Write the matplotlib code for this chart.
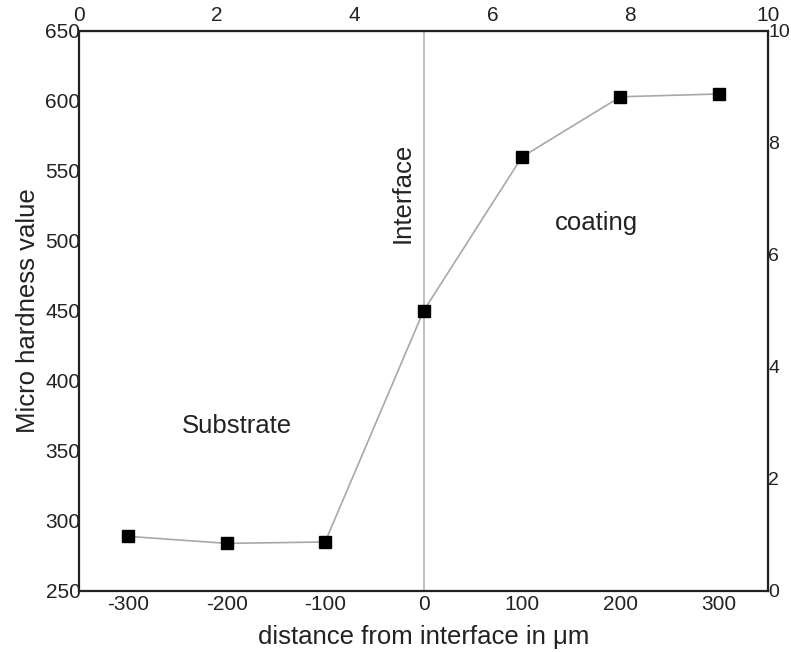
import numpy as np
import matplotlib.pyplot as plt

plt.rcParams['font.family'] = ['Liberation Sans', 'DejaVu Sans']
plt.rcParams['axes.unicode_minus'] = False

# data
distance = [-300, -200, -100, 0, 100, 200, 300]
hardness = [289, 284, 285, 450, 560, 603, 605]
bottom_ticks = [-300, -200, -100, 0, 100, 200, 300]
left_ticks = [250, 300, 350, 400, 450, 500, 550, 600, 650]
top_ticks = [0, 2, 4, 6, 8, 10]
right_ticks = [0, 2, 4, 6, 8, 10]

fig = plt.figure(figsize=(7.91, 6.52), dpi=100)
ax = fig.add_axes([0.0999, 0.0936, 0.8711, 0.8589])

# interface line and the hardness profile
ax.axvline(0, color='#b4b4b4', lw=1.2, zorder=1)
ax.plot(distance, hardness, color='#a8a8a8', lw=1.2, zorder=2)
ax.plot(distance, hardness, ls='none', marker='s', ms=8.5, color='black', zorder=3)

ax.set_xlim(-350, 350)
ax.set_ylim(250, 650)
ax.set_xticks(bottom_ticks)
ax.set_yticks(left_ticks)
ax.tick_params(axis='both', length=0, labelsize=15, colors='#222222')
ax.tick_params(axis='y', pad=-1)
ax.tick_params(axis='x', pad=3)

for sp in ax.spines.values():
    sp.set_linewidth(1.6)
    sp.set_color('#222222')

ax.set_xlabel('distance from interface in \u03bcm', fontsize=18.5, color='#222222', labelpad=8)
ax.set_ylabel('Micro hardness value', fontsize=18.5, color='#222222', labelpad=4)

# second scales on top and right, running 0..10
top = ax.secondary_xaxis('top', functions=(lambda x: (x + 350) / 70.0, lambda t: t * 70.0 - 350))
top.set_xticks(top_ticks)
top.tick_params(length=0, labelsize=15, pad=4, colors='#222222')
right = ax.secondary_yaxis('right', functions=(lambda y: (y - 250) / 40.0, lambda t: t * 40.0 + 250))
right.set_yticks(right_ticks)
right.tick_params(length=0, labelsize=14, pad=0, colors='#222222')

# region labels
ax.text(-190, 363, 'Substrate', fontsize=18.5, ha='center', va='baseline', color='#222222')
ax.text(176, 508, 'coating', fontsize=18.5, ha='center', va='baseline', color='#222222')
ax.text(-9, 534, 'Interface', fontsize=18.5, rotation=90, ha='right', va='center', color='#222222')

fig.savefig('out.png', dpi=100)
